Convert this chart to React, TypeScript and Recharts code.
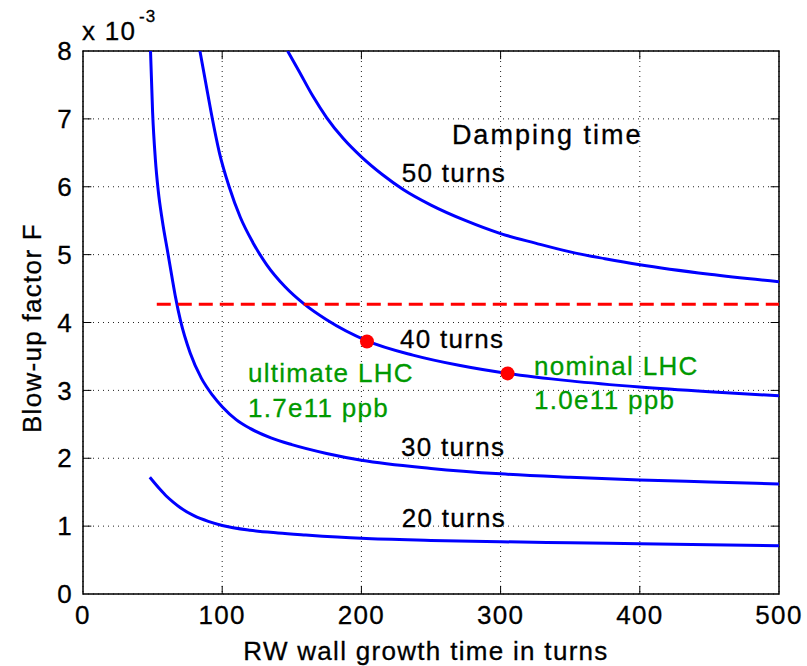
import {
  ComposedChart,
  Line,
  Scatter,
  XAxis,
  YAxis,
  CartesianGrid,
  ReferenceLine,
  ReferenceArea,
} from 'recharts'

// blow-up factor (x 1e-3) vs RW growth time, one curve per damping time
const t20 = [48, 55, 60, 65, 70, 80, 90, 100, 120, 140, 160, 200, 250, 300, 350, 400, 450, 500]
const f20 = [1.72, 1.55, 1.44, 1.35, 1.27, 1.15, 1.07, 1.01, 0.94, 0.9, 0.87, 0.82, 0.79, 0.77, 0.755, 0.74, 0.725, 0.71]

const t30 = [48.5, 50, 52, 54, 57, 61, 64, 66.5, 70, 77, 85, 93, 100, 110, 120, 135, 150, 175, 200, 250, 300, 350, 400, 450, 500]
const f30 = [8, 7.1, 6.4, 5.95, 5.5, 5.02, 4.66, 4.37, 4.03, 3.55, 3.18, 2.93, 2.76, 2.57, 2.44, 2.3, 2.2, 2.07, 1.97, 1.85, 1.77, 1.72, 1.68, 1.65, 1.62]

const t40 = [84, 88, 92, 98, 105, 113, 122, 132, 145, 159, 175, 204, 237, 270, 305, 350, 400, 450, 500]
const f40 = [8, 7.55, 7.1, 6.5, 6.0, 5.55, 5.18, 4.85, 4.53, 4.27, 4.04, 3.73, 3.52, 3.37, 3.25, 3.14, 3.05, 2.98, 2.92]

const t50 = [147, 155, 165, 175, 187, 200, 215, 230, 250, 275, 300, 325, 350, 375, 400, 450, 500]
const f50 = [8, 7.71, 7.34, 7.02, 6.71, 6.44, 6.18, 5.96, 5.73, 5.5, 5.31, 5.17, 5.04, 4.94, 4.85, 4.71, 4.6]

const limitT = [53, 500]
const limitF = 4.27

const dotT = [204, 305]
const dotF = [3.72, 3.25]

const noteText = ['Damping time', '50 turns', '40 turns', '30 turns', '20 turns', 'ultimate LHC', '1.7e11 ppb', 'nominal LHC', '1.0e11 ppb']
const noteT = [265, 229, 227.7, 228.4, 229, 118.5, 118.5, 324, 324]
const noteF = [6.78, 6.21, 3.76, 2.17, 1.13, 3.26, 2.74, 3.36, 2.86]
const noteGreen = [false, false, false, false, false, true, true, true, true]

const xTicks = [0, 100, 200, 300, 400, 500]
const yTicks = [0, 1, 2, 3, 4, 5, 6, 7, 8]

const toPts = (xs: number[], ys: number[]) => xs.map((x, i) => ({ x, y: ys[i] }))
const curves = [toPts(t20, f20), toPts(t30, f30), toPts(t40, f40), toPts(t50, f50)]
const dots = toPts(dotT, dotF)
const notes = noteText.map((text, i) => ({ x: noteT[i], y: noteF[i], text, green: noteGreen[i] }))

const font = '"Liberation Sans", Arial, sans-serif'
const tickStyle = { fill: '#000', stroke: '#000', strokeWidth: 0.3, fontSize: 26, fontFamily: font, letterSpacing: 1.3 }

export default function App() {
  return (
    <div style={{ position: 'absolute', left: 0, top: 0, width: 807, height: 666, background: '#fff' }}>
      <ComposedChart width={807} height={666} margin={{ top: 51, right: 28, bottom: 0, left: 0 }}>
        <CartesianGrid stroke="#222" strokeDasharray="1 4" />
        <XAxis
          type="number"
          dataKey="x"
          domain={[0, 500]}
          ticks={xTicks}
          allowDataOverflow
          height={72}
          axisLine={false}
          tickLine={false}
          tickSize={0}
          tickMargin={12}
          tick={tickStyle}
        />
        <YAxis
          type="number"
          domain={[0, 8]}
          ticks={yTicks}
          allowDataOverflow
          width={83}
          axisLine={false}
          tickLine={false}
          tickSize={0}
          tickMargin={10}
          tick={tickStyle}
        />
        {xTicks.slice(1, -1).map((t) => (
          <ReferenceLine key={'xb' + t} segment={[{ x: t, y: 0 }, { x: t, y: 0.12 }]} stroke="#000" />
        ))}
        {xTicks.slice(1, -1).map((t) => (
          <ReferenceLine key={'xt' + t} segment={[{ x: t, y: 8 }, { x: t, y: 7.88 }]} stroke="#000" />
        ))}
        {yTicks.slice(1, -1).map((t) => (
          <ReferenceLine key={'yl' + t} segment={[{ x: 0, y: t }, { x: 6, y: t }]} stroke="#000" />
        ))}
        {yTicks.slice(1, -1).map((t) => (
          <ReferenceLine key={'yr' + t} segment={[{ x: 494, y: t }, { x: 500, y: t }]} stroke="#000" />
        ))}
        {curves.map((c, i) => (
          <Line
            key={i}
            data={c}
            dataKey="y"
            type="monotone"
            stroke="#0000ff"
            strokeWidth={3}
            dot={false}
            activeDot={false}
            isAnimationActive={false}
          />
        ))}
        <ReferenceLine
          segment={[{ x: limitT[0], y: limitF }, { x: limitT[1], y: limitF }]}
          stroke="#ff0000"
          strokeWidth={3}
          strokeDasharray="14 7"
        />
        <Scatter
          data={dots}
          dataKey="y"
          isAnimationActive={false}
          shape={(p: any) => <circle cx={p.cx} cy={p.cy} r={7} fill="#ff0000" />}
        />
        <Scatter
          data={notes}
          dataKey="y"
          isAnimationActive={false}
          shape={(p: any) => {
            const c = p.payload.green ? '#009900' : '#000'
            const big = p.payload.text === 'Damping time'
            return (
              <text
                x={p.cx}
                y={p.cy}
                dy="0.36em"
                textAnchor="start"
                fontSize={big ? 27 : 26}
                letterSpacing={big ? 2 : 1.3}
                fontFamily={font}
                fill={c}
                stroke={c}
                strokeWidth={0.3}
              >
                {p.payload.text}
              </text>
            )
          }}
        />
        <ReferenceArea x1={0} x2={500} y1={0} y2={8} fill="none" stroke="#000" strokeWidth={1.5} ifOverflow="visible" />
      </ComposedChart>
      <svg width={807} height={666} style={{ position: 'absolute', left: 0, top: 0, pointerEvents: 'none' }}>
        <g fontFamily={font} fill="#000" stroke="#000" strokeWidth={0.3}>
          <text x={82} y={40} fontSize={26} letterSpacing={1.3}>x 10</text>
          <text x={139} y={22} fontSize={17} letterSpacing={1}>-3</text>
          <text x={41} y={328} fontSize={26} letterSpacing={1.3} textAnchor="middle" transform="rotate(-90 41 328)">
            Blow-up factor F
          </text>
          <text x={426} y={660} fontSize={26} letterSpacing={1.3} textAnchor="middle">
            RW wall growth time in turns
          </text>
        </g>
      </svg>
    </div>
  )
}
